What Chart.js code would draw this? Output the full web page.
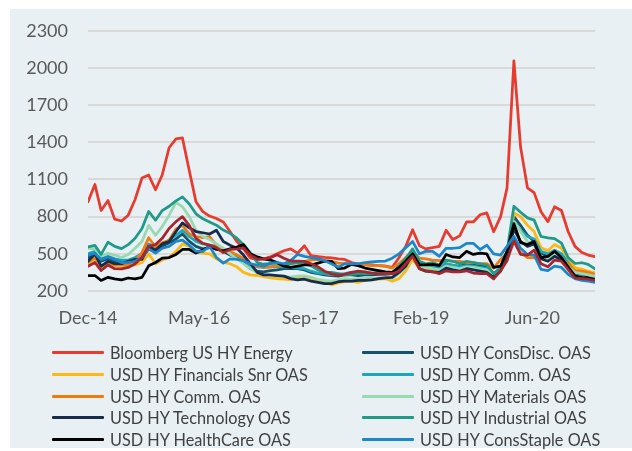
<!DOCTYPE html>
<html>
<head>
<meta charset="utf-8">
<script src="https://cdn.jsdelivr.net/npm/chart.js@4.4.1/dist/chart.umd.min.js"></script>
<style>
  html, body { margin: 0; padding: 0; background: #ffffff; }
  body { width: 632px; height: 451px; position: relative; overflow: hidden; font-family: Lato, "Open Sans", sans-serif; }
  #panel { position: absolute; left: 10px; top: 9px; width: 622px; height: 439px; background: #E8F0F3; }
  #wrap { position: absolute; left: 0; top: 0; width: 632px; height: 340px; }
  #legend { position: absolute; left: 0; top: 0; width: 632px; height: 451px; }
  .item { position: absolute; height: 20px; display: flex; align-items: center; font-size: 16.3px; color: #404040; white-space: nowrap; }
  .item i { display: block; width: 52px; height: 3px; margin-right: 6px; border-radius: 1px; }
</style>
</head>
<body>
<div id="panel"></div>
<div id="wrap"><canvas id="c" width="632" height="340"></canvas></div>
<div id="legend"></div>
<script>
// Month-end observations, Dec 2014 to Mar 2021
const months = [
  '2014-12',
  '2015-01','2015-02','2015-03','2015-04','2015-05','2015-06','2015-07','2015-08','2015-09','2015-10','2015-11','2015-12',
  '2016-01','2016-02','2016-03','2016-04','2016-05','2016-06','2016-07','2016-08','2016-09','2016-10','2016-11','2016-12',
  '2017-01','2017-02','2017-03','2017-04','2017-05','2017-06','2017-07','2017-08','2017-09','2017-10','2017-11','2017-12',
  '2018-01','2018-02','2018-03','2018-04','2018-05','2018-06','2018-07','2018-08','2018-09','2018-10','2018-11','2018-12',
  '2019-01','2019-02','2019-03','2019-04','2019-05','2019-06','2019-07','2019-08','2019-09','2019-10','2019-11','2019-12',
  '2020-01','2020-02','2020-03','2020-04','2020-05','2020-06','2020-07','2020-08','2020-09','2020-10','2020-11','2020-12',
  '2021-01','2021-02','2021-03'
];

// Axis labels every 500 days from the first observation
const tickLabels = ['Dec-14', 'May-16', 'Sep-17', 'Feb-19', 'Jun-20'];
const tickDays = [0, 500, 1000, 1500, 2000];

// Option-adjusted spreads (bp)
const energy = [920,1060,850,930,780,765,812,939,1112,1136,1017,1136,1356,1427,1435,1170,920,840,805,785,757,680,600,540,465,455,458,475,500,525,540,505,565,485,478,472,468,460,455,430,418,415,410,405,400,390,470,560,694,565,540,550,560,690,615,645,757,757,815,830,678,800,1030,2058,1362,1033,994,840,760,880,850,680,560,510,490,478];
const consDisc = [470,500,440,460,440,430,430,440,470,540,520,560,590,620,660,600,560,540,550,560,520,490,470,430,380,360,355,365,370,380,380,380,370,350,340,330,325,320,330,330,325,330,330,335,335,340,380,440,530,410,400,400,380,420,405,400,420,410,405,400,340,380,490,800,730,650,600,500,480,520,490,420,345,335,320,310];
const financials = [415,465,390,420,405,400,400,410,430,500,420,450,470,520,580,560,520,505,500,460,430,420,395,350,330,325,315,305,300,295,290,300,310,300,280,270,250,265,275,280,270,285,290,295,300,280,300,360,455,380,360,370,350,380,365,360,380,380,370,370,320,360,450,830,800,730,680,550,525,575,545,455,390,375,360,345];
const commCyan = [500,520,460,480,460,450,450,470,500,580,550,580,610,650,690,640,600,580,570,560,530,510,490,450,410,395,390,395,395,395,390,385,380,360,345,340,330,335,340,350,345,340,345,350,350,345,390,440,520,420,410,400,380,420,410,395,405,400,390,380,330,370,470,760,690,640,620,520,500,530,500,430,350,340,330,320];
const commOrange = [430,470,400,430,410,410,415,445,510,630,555,590,610,700,730,660,640,630,640,570,535,520,490,465,420,400,390,395,400,410,420,430,440,450,455,450,440,425,420,415,410,410,405,405,400,385,420,470,520,465,460,450,445,445,440,440,430,430,420,420,385,455,505,600,510,470,470,470,460,480,460,420,365,360,350,335];
const materials = [545,540,480,505,490,470,495,545,600,730,650,720,810,915,880,800,690,640,615,580,545,500,460,420,380,345,330,325,322,318,312,320,322,310,295,285,280,290,300,295,300,300,305,305,310,300,340,390,510,400,390,380,370,400,390,380,395,390,380,370,330,380,480,760,680,600,580,480,460,490,470,400,350,340,330,320];
const technology = [440,500,400,440,420,420,440,455,455,560,530,580,600,680,750,710,680,670,660,690,600,570,545,490,420,350,330,330,325,320,300,290,295,280,270,260,260,275,280,280,285,285,290,300,305,310,350,400,500,380,360,355,350,385,370,360,380,370,360,350,310,360,470,700,600,560,580,460,440,480,450,380,320,305,295,285];
const industrial = [555,568,495,594,560,542,574,626,705,842,771,849,884,928,960,902,823,783,757,731,692,665,626,574,507,430,416,420,424,403,420,428,420,403,370,350,350,340,330,335,340,345,340,345,340,345,400,460,540,440,420,430,410,450,440,420,440,430,420,410,340,390,520,884,836,790,772,640,628,622,586,470,422,428,415,378];
const healthCare = [325,325,285,310,298,290,305,298,310,403,430,465,470,495,535,535,507,530,560,535,525,540,555,574,500,475,460,450,430,400,390,400,410,410,425,440,440,380,385,415,405,385,375,365,355,350,390,440,500,410,410,415,405,495,475,470,520,495,505,500,390,400,520,744,590,575,600,470,480,520,470,395,320,310,305,290];
const consStaple = [490,505,455,475,455,430,430,440,470,540,505,545,560,600,610,570,520,520,560,470,425,460,455,445,420,410,400,425,430,420,445,495,480,470,460,445,420,392,420,418,420,430,435,440,442,465,500,550,600,500,520,520,480,545,545,550,585,585,535,570,500,490,560,640,545,495,490,375,365,400,390,335,300,285,280,270];
const otherSector = [400,430,365,410,380,378,390,420,470,560,575,625,705,760,800,730,625,585,570,550,510,535,540,547,490,458,460,468,492,465,442,442,440,420,395,360,338,328,335,350,360,355,345,338,345,340,360,420,480,380,365,355,340,363,355,355,363,345,340,340,298,365,445,605,495,490,530,420,395,450,440,375,305,300,295,285];

const seriesList = [
  { label: 'Bloomberg US HY Energy',   data: energy,     color: '#E63B2E', legend: true },
  { label: 'USD HY ConsDisc. OAS',      data: consDisc,   color: '#15536A', legend: true },
  { label: 'USD HY Financials Snr OAS', data: financials, color: '#FDB813', legend: true },
  { label: 'USD HY Comm. OAS',          data: commCyan,   color: '#1AA7BC', legend: true },
  { label: 'USD HY Comm. OAS',          data: commOrange, color: '#EE7B10', legend: true },
  { label: 'USD HY Materials OAS',      data: materials,  color: '#98D9B1', legend: true },
  { label: 'USD HY Technology OAS',     data: technology, color: '#172B4D', legend: true },
  { label: 'USD HY Industrial OAS',     data: industrial, color: '#1F9A88', legend: true },
  { label: 'USD HY HealthCare OAS',     data: healthCare, color: '#000000', legend: true },
  { label: 'USD HY ConsStaple OAS',     data: consStaple, color: '#1B87C9', legend: true },
  { label: 'USD HY Other OAS',          data: otherSector, color: '#A6262F', legend: false }
];

// Day offsets of each month end from the first observation
const monthEnd = m => { const [y, mo] = m.split('-').map(Number); return Date.UTC(y, mo, 0); };
const t0 = monthEnd(months[0]);
const dayOf = months.map(m => Math.round((monthEnd(m) - t0) / 864e5));

const n = seriesList.length;
const datasets = seriesList.map((s, i) => ({
  label: s.label,
  data: s.data.map((v, k) => ({ x: dayOf[k], y: v })),
  borderColor: s.color,
  backgroundColor: s.color,
  borderWidth: 2.75,
  pointRadius: 0,
  tension: 0,
  fill: false,
  borderJoinStyle: 'round',
  borderCapStyle: 'round',
  order: n - i
}));

const tickFont = { family: 'Lato', size: 18 };

const chart = new Chart(document.getElementById('c'), {
  type: 'line',
  data: { datasets },
  options: {
    responsive: false,
    devicePixelRatio: 1,
    animation: false,
    layout: { padding: { left: 0, right: 37, top: 24, bottom: 4 } },
    plugins: { legend: { display: false }, tooltip: { enabled: false } },
    scales: {
      x: {
        type: 'linear',
        min: 0,
        max: dayOf[dayOf.length - 1],
        afterBuildTicks: s => { s.ticks = tickDays.map(v => ({ value: v })); },
        afterFit: s => { s.height = 45; },
        grid: { display: false, drawTicks: false },
        border: { display: false },
        ticks: {
          autoSkip: false,
          maxRotation: 0,
          padding: 16,
          color: '#595959',
          font: tickFont,
          callback: v => { const k = tickDays.indexOf(v); return k >= 0 ? tickLabels[k] : ''; }
        }
      },
      y: {
        min: 200,
        max: 2300,
        afterFit: s => { s.width = 88; },
        grid: { color: '#D9D9D9', lineWidth: 2, drawTicks: false },
        border: { display: false },
        ticks: { stepSize: 300, padding: 20, color: '#595959', font: tickFont, callback: v => String(v) }
      }
    }
  }
});

// Two-column legend built from the chart's datasets
const legendEl = document.getElementById('legend');
const colX = [52, 362];
const rowY = [352, 374, 396, 417.5, 439];
chart.data.datasets.filter((d, i) => seriesList[i].legend).forEach((d, k) => {
  const item = document.createElement('div');
  item.className = 'item';
  item.style.left = colX[k % 2] + 'px';
  item.style.top = (rowY[Math.floor(k / 2)] - 10) + 'px';
  const sw = document.createElement('i');
  sw.style.background = d.borderColor;
  const tx = document.createElement('span');
  tx.textContent = d.label;
  item.appendChild(sw);
  item.appendChild(tx);
  legendEl.appendChild(item);
});
</script>
</body>
</html>
